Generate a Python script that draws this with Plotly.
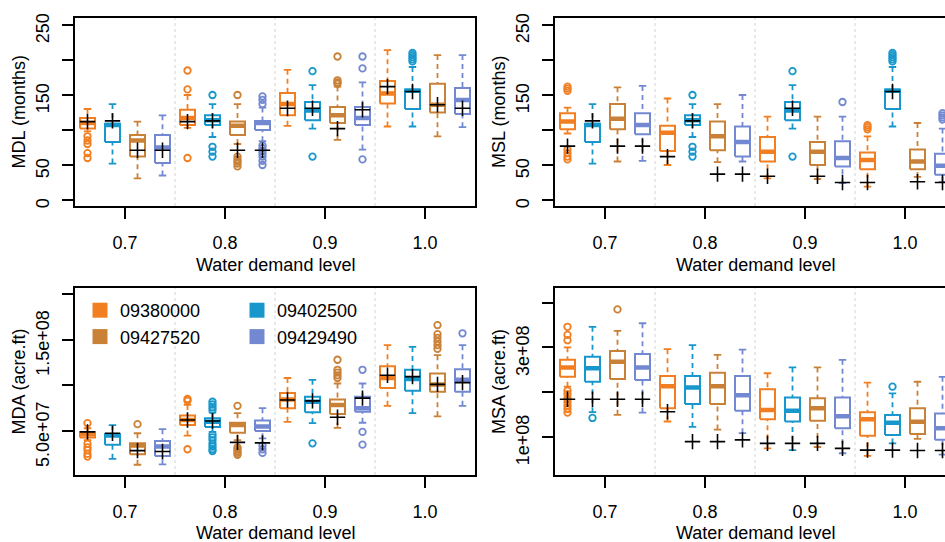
import plotly.graph_objects as go

# ---------------- data ----------------
GAUGES = ["09380000", "09402500", "09427520", "09429490"]
COLORS = ["#F17F22", "#1797CB", "#C98137", "#7289D2"]
LEVELS = ["0.7", "0.8", "0.9", "1.0"]
X_TITLE = "Water demand level"

# each stat list has 16 values: for level 0.7 (gauge1..4), 0.8 (gauge1..4), ...
# ---- MDL (months)
MDL_LOW = [98, 52, 31, 35, 103, 90, 80, 84, 106, 102, 86, 72, 105, 105, 91, 104]
MDL_Q1 = [102, 83, 62, 53, 107, 107, 93, 100, 121, 114, 110, 107, 138, 130, 125, 123]
MDL_MED = [110, 107, 85, 75, 117, 114, 106, 110, 137, 128, 121, 117, 152, 156, 136, 143]
MDL_Q3 = [117, 109, 93, 93, 129, 121, 112, 113, 153, 140, 133, 133, 170, 158, 166, 160]
MDL_HIGH = [130, 137, 112, 121, 150, 137, 137, 132, 186, 164, 162, 168, 214, 190, 207, 207]
MDL_PLUS = [112, 113, 71, 71, 112, 113, 71, 71, 131, 131, 102, 129, 162, 155, 136, 131]
MDL_OUT = [[91, 85, 80, 67, 60], [], [], [],
           [185, 158, 60], [150, 76, 69, 62], [150, 62, 58, 55, 52, 48],
           [148, 143, 137, 78, 74, 70, 66, 62, 56, 50],
           [], [184, 62], [205, 171, 168, 166], [205, 188, 58],
           [], [210, 207, 204, 201, 198], [], []]

# ---- MSL (months)
MSL_LOW = [95, 52, 55, 56, 50, 90, 54, 55, 31, 102, 30, 24, 19, 105, 33, 26]
MSL_Q1 = [101, 83, 101, 94, 70, 107, 71, 62, 55, 114, 50, 48, 44, 130, 44, 36]
MSL_MED = [112, 107, 116, 107, 96, 114, 91, 83, 69, 128, 69, 60, 57, 156, 55, 49]
MSL_Q3 = [124, 109, 137, 124, 106, 121, 112, 105, 90, 140, 83, 84, 68, 158, 72, 66]
MSL_HIGH = [132, 137, 161, 163, 145, 137, 137, 150, 119, 164, 119, 119, 91, 190, 110, 102]
MSL_PLUS = [77, 113, 77, 77, 62, 113, 37, 37, 34, 131, 34, 25, 25, 155, 26, 25]
MSL_OUT = [[162, 159, 156, 72, 67, 62, 58], [], [], [],
           [], [150, 76, 69, 62], [], [],
           [], [184, 62], [], [140],
           [107, 104, 101], [210, 207, 204, 201, 198], [], [124, 121, 118, 115]]

# ---- MDA (acre.ft), in units of 1e7
MDA_LOW = [4.0, 1.95, 1.3, 1.35, 4.5, 4.9, 4.0, 4.2, 6.0, 5.85, 5.35, 5.9, 7.75, 6.95, 6.6, 7.75]
MDA_Q1 = [4.3, 3.5, 2.45, 2.25, 5.65, 5.45, 4.8, 5.0, 7.5, 7.05, 6.85, 7.1, 9.7, 9.4, 9.3, 9.3]
MDA_MED = [4.65, 4.5, 3.4, 3.3, 6.2, 6.0, 5.65, 5.5, 8.45, 8.2, 7.85, 7.5, 10.8, 10.7, 10.1, 10.6]
MDA_Q3 = [4.9, 4.65, 3.65, 3.9, 6.7, 6.4, 5.9, 6.15, 9.15, 8.75, 8.45, 8.75, 12.1, 11.7, 11.3, 11.75]
MDA_HIGH = [5.3, 5.65, 4.75, 5.2, 7.85, 7.0, 6.95, 7.5, 10.8, 10.6, 10.2, 10.2, 14.4, 14.2, 13.3, 14.4]
MDA_PLUS = [4.9, 4.75, 2.85, 2.75, 6.2, 6.1, 3.75, 3.7, 8.4, 8.3, 6.5, 8.6, 11.1, 10.95, 10.1, 10.3]
MDA_OUT = [[5.85, 3.6, 3.2, 2.9, 2.5, 2.2], [], [5.75], [],
           [8.5, 8.3, 3.0], [8.2, 7.9, 7.6, 7.3, 4.6, 4.3, 4.0, 3.6, 3.3, 3.0, 2.8],
           [7.75, 3.2, 3.0, 2.8, 2.6, 2.4], [3.4, 3.0, 2.6],
           [], [3.65], [12.8, 11.7, 11.4, 11.1, 10.8], [11.7, 4.9, 3.5],
           [], [], [16.6, 15.6, 15.2, 14.8, 14.4, 14.0], [15.7]]

# ---- MSA (acre.ft), in units of 1e7
MSA_LOW = [21.2, 15.5, 14.9, 15.4, 13.4, 12.2, 11.6, 10.8, 7.4, 7.0, 7.7, 6.3, 5.7, 8.5, 9.5, 6.0]
MSA_Q1 = [23.4, 22.3, 22.9, 22.7, 16.35, 17.3, 17.3, 15.8, 13.9, 13.4, 13.6, 11.9, 10.2, 10.4, 10.6, 9.3]
MSA_MED = [25.5, 25.3, 26.8, 25.5, 21.3, 21.0, 21.3, 19.3, 16.0, 15.8, 16.35, 14.6, 13.9, 13.1, 13.35, 11.9]
MSA_Q3 = [27.2, 27.9, 29.2, 28.5, 23.6, 23.6, 24.3, 23.6, 20.6, 18.8, 18.6, 18.8, 15.5, 14.85, 16.35, 15.2]
MSA_HIGH = [30.0, 34.6, 33.7, 35.4, 29.6, 30.5, 28.3, 29.5, 24.2, 25.5, 25.5, 27.2, 22.1, 19.7, 22.3, 23.4]
MSA_PLUS = [18.4, 18.4, 18.4, 18.4, 15.6, 8.9, 8.9, 9.3, 8.5, 8.5, 8.5, 7.4, 7.0, 7.0, 6.9, 6.9]
MSA_OUT = [[34.6, 32.8, 31.6, 20.3, 19.5, 18.6, 17.8, 17.0, 16.2, 15.4], [14.2], [38.5], [],
           [], [], [], [],
           [], [], [], [],
           [], [21.2], [], []]

UNIT_E7 = 1e7

# tick definitions
MONTH_TICKS = [0, 50, 100, 150, 200, 250]
MONTH_LABELS = ["0", "50", "", "150", "", "250"]
MDA_TICKS = [5e7, 1e8, 1.5e8, 2e8]
MDA_LABELS = ["5.0e+07", "", "1.5e+08", ""]
MSA_TICKS = [1e8, 2e8, 3e8, 4e8]
MSA_LABELS = ["1e+08", "", "3e+08", ""]

# ---------------- figure ----------------
W, H = 945, 542
FONT = "Liberation Sans, Arial, Helvetica, sans-serif"
FS = 18

fig = go.Figure()

HALF = 0.3   # half box width
CAP = 0.15   # half cap width


def add_panel(xa, ya, low, q1, med, q3, high, plus, out, scale):
    for j, col in enumerate(COLORS):
        bx, by, mx, my, wx, wy, cx, cy, ox, oy = [], [], [], [], [], [], [], [], [], []
        for g in range(4):
            i = 4 * g + j
            p = i + 1
            L, A, M, B, U = (low[i] * scale, q1[i] * scale, med[i] * scale,
                             q3[i] * scale, high[i] * scale)
            bx += [p - HALF, p + HALF, p + HALF, p - HALF, p - HALF, None]
            by += [A, A, B, B, A, None]
            mx += [p - HALF, p + HALF, None]
            my += [M, M, None]
            wx += [p, p, None, p, p, None]
            wy += [U, B, None, L, A, None]
            cx += [p - CAP, p + CAP, None, p - CAP, p + CAP, None]
            cy += [U, U, None, L, L, None]
            for v in out[i]:
                ox.append(p)
                oy.append(v * scale)
        common = dict(xaxis=xa, yaxis=ya, showlegend=False, hoverinfo="skip")
        fig.add_trace(go.Scatter(x=wx, y=wy, mode="lines",
                                 line=dict(color=col, width=1.8, dash="5px,4px"), **common))
        fig.add_trace(go.Scatter(x=cx, y=cy, mode="lines",
                                 line=dict(color=col, width=1.8), **common))
        fig.add_trace(go.Scatter(x=bx, y=by, mode="lines",
                                 line=dict(color=col, width=2), **common))
        fig.add_trace(go.Scatter(x=mx, y=my, mode="lines",
                                 line=dict(color=col, width=4.5), **common))
        fig.add_trace(go.Scatter(x=ox, y=oy, mode="markers",
                                 marker=dict(symbol="circle-open", size=6.5, color=col,
                                             line=dict(width=1.8, color=col)), **common))
    px = [i + 1 for i in range(16)]
    fig.add_trace(go.Scatter(x=px, y=[v * scale for v in plus], mode="markers",
                             marker=dict(symbol="cross-thin", size=11,
                                         line=dict(width=1.6, color="black")),
                             xaxis=xa, yaxis=ya, showlegend=False, hoverinfo="skip"))


add_panel("x", "y", MDL_LOW, MDL_Q1, MDL_MED, MDL_Q3, MDL_HIGH, MDL_PLUS, MDL_OUT, 1)
add_panel("x2", "y2", MSL_LOW, MSL_Q1, MSL_MED, MSL_Q3, MSL_HIGH, MSL_PLUS, MSL_OUT, 1)
add_panel("x3", "y3", MDA_LOW, MDA_Q1, MDA_MED, MDA_Q3, MDA_HIGH, MDA_PLUS, MDA_OUT, UNIT_E7)
add_panel("x4", "y4", MSA_LOW, MSA_Q1, MSA_MED, MSA_Q3, MSA_HIGH, MSA_PLUS, MSA_OUT, UNIT_E7)

# legend proxies (two columns -> two legends)
for j, (name, col) in enumerate(zip(GAUGES, COLORS)):
    fig.add_trace(go.Scatter(x=[None], y=[None], mode="markers", name=name,
                             marker=dict(symbol="square", size=15, color=col),
                             legend="legend" if j in (0, 2) else "legend2",
                             xaxis="x3", yaxis="y3", hoverinfo="skip"))

XL = [75 / W, 475 / W]
XR = [555 / W, 1.0]
YT = [1 - 206 / H, 1 - 17.5 / H]
YB = [1 - 475 / H, 1 - 287.8 / H]

font = dict(family=FONT, size=FS, color="black")


def xaxis(domain, anchor, rng, mirror=True):
    return dict(domain=domain, anchor=anchor, range=rng, tickmode="array",
                tickvals=[2.5, 6.5, 10.5, 14.5], ticktext=LEVELS,
                ticks="outside", ticklen=11, tickwidth=2, tickcolor="black",
                showline=True, linewidth=2, linecolor="black", mirror=mirror,
                showgrid=False, zeroline=False, tickfont=font,
                ticklabelstandoff=8, automargin=False)


def yaxis(domain, anchor, rng, tv, tt, title, mirror):
    return dict(domain=domain, anchor=anchor, range=rng, tickmode="array",
                tickvals=tv, ticktext=tt, tickangle=-90,
                ticks="outside", ticklen=11, tickwidth=2, tickcolor="black",
                showline=True, linewidth=2, linecolor="black", mirror=mirror,
                showgrid=False, zeroline=False, tickfont=font,
                ticklabelstandoff=6, ticklabelshift=6,
                title=dict(text=title, font=font, standoff=2), automargin=False)


fig.update_layout(
    width=W, height=H, autosize=False,
    margin=dict(l=0, r=0, t=0, b=0),
    paper_bgcolor="white", plot_bgcolor="white",
    font=font,
    xaxis=xaxis(XL, "y", [0.5, 16.5]),
    yaxis=yaxis(YT, "x", [-8.6, 260.7], MONTH_TICKS, MONTH_LABELS, "MDL (months)", True),
    xaxis2=xaxis(XR, "y2", [0.5, 16.1]),
    yaxis2=yaxis(YT, "x2", [-8.6, 260.7], MONTH_TICKS, MONTH_LABELS, "MSL (months)", False),
    xaxis3=xaxis(XL, "y3", [0.5, 16.5]),
    yaxis3=yaxis(YB, "x3", [1.8e6, 2.068e8], MDA_TICKS, MDA_LABELS, "MDA (acre.ft)", True),
    xaxis4=xaxis(XR, "y4", [0.5, 16.1]),
    yaxis4=yaxis(YB, "x4", [1.43e7, 4.333e8], MSA_TICKS, MSA_LABELS, "MSA (acre.ft)", False),
    legend=dict(x=80 / W, y=1 - 292 / H, xanchor="left", yanchor="top",
                bgcolor="rgba(0,0,0,0)", borderwidth=0, font=font, tracegroupgap=0),
    legend2=dict(x=237 / W, y=1 - 292 / H, xanchor="left", yanchor="top",
                 bgcolor="rgba(0,0,0,0)", borderwidth=0, font=font, tracegroupgap=0),
)

# x-axis titles, centred under each panel
annotations = []
for xa, ty in [("x", 265), ("x2", 265), ("x3", 533), ("x4", 533)]:
    annotations.append(dict(text=X_TITLE, xref=xa + " domain", yref="paper",
                            x=0.5 if xa in ("x", "x3") else 0.5 * 400 / 390,
                            y=1 - ty / H, xanchor="center", yanchor="middle",
                            showarrow=False, font=font))
fig.update_layout(annotations=annotations)

# dotted separators between demand levels
shapes = []
for xa, ya in [("x", "y"), ("x2", "y2"), ("x3", "y3"), ("x4", "y4")]:
    for sx in [4.5, 8.5, 12.5]:
        shapes.append(dict(type="line", xref=xa, yref=ya + " domain", x0=sx, x1=sx,
                           y0=0, y1=1, line=dict(color="#d2d2d2", width=1, dash="dot"),
                           layer="below"))
fig.update_layout(shapes=shapes)

fig.write_html("out.html",
               config={"displayModeBar": False},
               post_script="document.body.style.margin='0';"
                           "document.body.style.overflow='hidden';")
